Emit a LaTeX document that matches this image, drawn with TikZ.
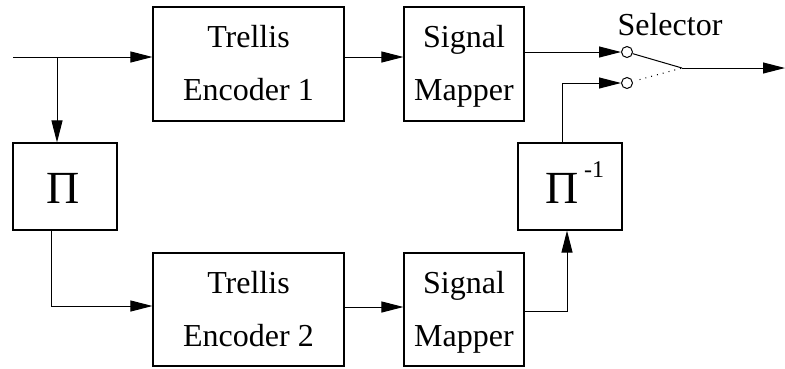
\documentclass[tikz,border=0pt]{standalone}
\usepackage{fontspec}
\setmainfont{Liberation Serif}
\usetikzlibrary{arrows.meta}
\begin{document}
\begin{tikzpicture}[x=1pt,y=-1pt,
  blk/.style={draw, line width=1.1pt, inner sep=0pt},
  txt/.style={font=\fontsize{32}{38}\selectfont, anchor=base, inner sep=0pt},
  pitxt/.style={font=\fontsize{46}{50}\selectfont, anchor=base, inner sep=0pt},
  arr/.style={line width=1pt, -{Triangle[length=22pt,width=11pt]}},
  ln/.style={line width=1pt},
  sw/.style={circle, draw, line width=1pt, minimum size=11pt, inner sep=0pt}]
\useasboundingbox (0,0) rectangle (785,368);
% boxes
\node[blk, minimum width=191pt, minimum height=114pt] (enc1) at (248.5,64) {};
\node[blk, minimum width=120pt, minimum height=114pt] (map1) at (464,64) {};
\node[blk, minimum width=191pt, minimum height=113pt] (enc2) at (248.5,309.5) {};
\node[blk, minimum width=120pt, minimum height=113pt] (map2) at (464,309.5) {};
\node[blk, minimum width=104pt, minimum height=87pt] (pi) at (65,186.5) {};
\node[blk, minimum width=104pt, minimum height=87pt] (pinv) at (570,186.5) {};
% texts
\node[txt] (t1a) at (248.5,47) {Trellis};
\node[txt] (t1b) at (248.5,100) {Encoder 1};
\node[txt] (m1a) at (464,47) {Signal};
\node[txt] (m1b) at (464,100) {Mapper};
\node[txt] (t2a) at (248.5,293) {Trellis};
\node[txt] (t2b) at (248.5,346) {Encoder 2};
\node[txt] (m2a) at (464,293) {Signal};
\node[txt] (m2b) at (464,346) {Mapper};
\node[pitxt] (pis) at (63,203) {Π};
\node[pitxt] (pinvs) at (562.5,203) {Π};
\node[font=\fontsize{24}{28}\selectfont, anchor=base west, inner sep=0pt] (minus1) at (584,177) {-1};
\node[txt] (sel) at (670,35) {Selector};
% selector
\node[sw] (c1) at (627,52) {};
\node[sw] (c2) at (627,83) {};
\coordinate (pv) at (682,68);
\coordinate (out) at (785,68);
\coordinate (in) at (13,57);
\coordinate (br) at (57,57);
\coordinate (piout) at (51,230);
% connectors
\draw[arr] (in) -- (in -| enc1.west);
\draw[arr] (br) -- (br |- pi.north);
\draw[arr] (piout) |- (enc2.west |- 0,306);
\draw[arr] (enc1.east |- 0,57) -- (map1.west |- 0,57);
\draw[arr] (enc2.east |- 0,307) -- (map2.west |- 0,307);
\draw[arr] (map1.east |- c1) -- (c1);
\draw[arr] (map2.east |- 0,311) -| (pinv.south -| 567,0);
\draw[arr] (pinv.north -| 562,0) |- (c2);
\draw[ln] (c1) -- (pv);
\draw[ln, dash pattern=on 1pt off 5pt, shorten <=7pt] (c2) -- (pv);
\draw[arr] (pv) -- (out);
\end{tikzpicture}
\end{document}
